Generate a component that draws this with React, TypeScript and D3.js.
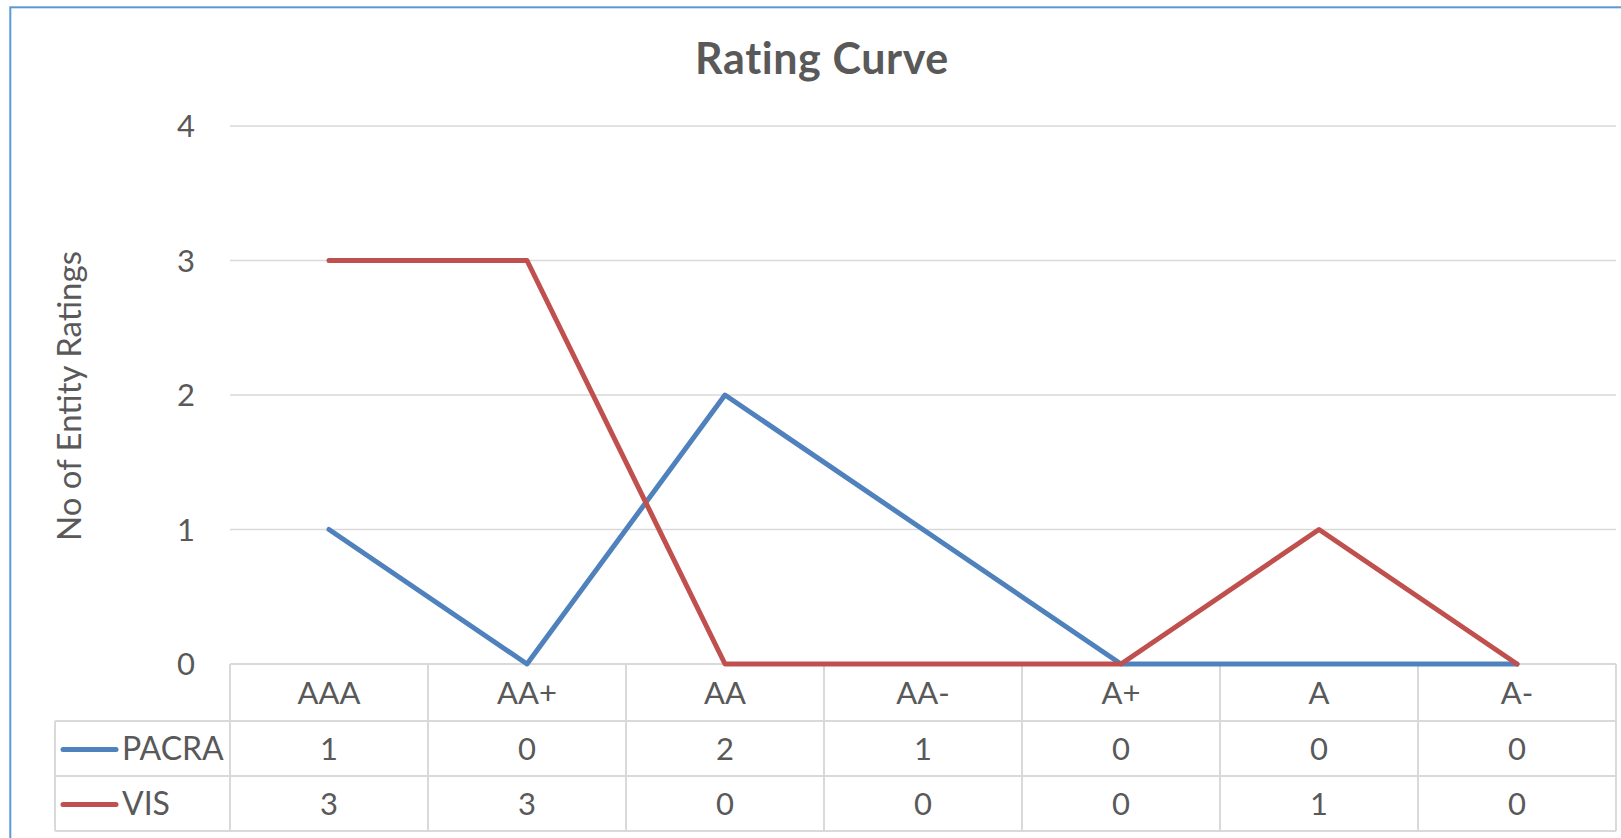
import React from "react";
import * as d3 from "d3";

const categories = ["AAA", "AA+", "AA", "AA-", "A+", "A", "A-"];
const pacra = [1, 0, 2, 1, 0, 0, 0];
const vis = [3, 3, 0, 0, 0, 1, 0];
const yTicks = [0, 1, 2, 3, 4];
const seriesNames = ["PACRA", "VIS"];
const seriesColors = ["#4F81BD", "#C0504D"];

const W = 1621;
const H = 838;
const FONT = "Lato, 'Open Sans', sans-serif";
const TEXT = "#595959";
const GRID = "#D9D9D9";

export default function App() {
  const plotL = 230;
  const plotR = 1616;
  const y0 = 664;
  const yTop = 126;
  const tableL = 55;
  const rowH = [664, 721, 776, 831];

  const x = d3.scaleBand<string>().domain(categories).range([plotL, plotR]);
  const y = d3.scaleLinear().domain([0, 4]).range([y0, yTop]);
  const cx = (c: string) => (x(c) as number) + x.bandwidth() / 2;

  const line = d3
    .line<number>()
    .x((_, i) => cx(categories[i]))
    .y((d) => y(d));

  const series = [pacra, vis];

  return (
    <svg
      width={W}
      height={H}
      style={{ position: "absolute", left: 0, top: 0, background: "#fff" }}
      fontFamily={FONT}
    >
      <rect x={0} y={0} width={W} height={H} fill="#fff" />
      {/* outer frame */}
      <rect x={10.3} y={7.3} width={W + 20} height={H + 20} fill="none" stroke="#5B9BD5" strokeWidth={2} />

      {/* title */}
      <text x={822} y={74} textAnchor="middle" fontSize={43} fontWeight={700} fill={TEXT} letterSpacing={0.6}>
        Rating Curve
      </text>

      {/* gridlines */}
      {yTicks
        .filter((t) => t > 0)
        .map((t) => (
          <line key={t} x1={plotL} x2={plotR} y1={y(t)} y2={y(t)} stroke={GRID} strokeWidth={1.5} />
        ))}

      {/* y tick labels */}
      {yTicks.map((t) => (
        <text key={t} x={195} y={y(t)} dy="0.36em" textAnchor="end" fontSize={31} fill={TEXT}>
          {t}
        </text>
      ))}

      {/* y axis title */}
      <text
        transform={`translate(81, ${(y0 + yTop) / 2 + 1}) rotate(-90)`}
        textAnchor="middle"
        fontSize={33}
        fill={TEXT}
      >
        No of Entity Ratings
      </text>

      {/* data table */}
      <g stroke={GRID} strokeWidth={2} fill="none">
        <line x1={plotL} x2={plotR} y1={rowH[0]} y2={rowH[0]} />
        {rowH.slice(1).map((r) => (
          <line key={r} x1={tableL} x2={plotR} y1={r} y2={r} />
        ))}
        <line x1={tableL} x2={tableL} y1={rowH[1]} y2={rowH[3]} />
        {categories.map((c) => (
          <line key={c} x1={x(c) as number} x2={x(c) as number} y1={rowH[0]} y2={rowH[3]} />
        ))}
        <line x1={plotR} x2={plotR} y1={rowH[0]} y2={rowH[3]} />
      </g>

      {categories.map((c) => (
        <text key={c} x={cx(c)} y={(rowH[0] + rowH[1]) / 2} dy="0.36em" textAnchor="middle" fontSize={31} fill={TEXT}>
          {c}
        </text>
      ))}

      {series.map((s, si) => (
        <g key={si}>
          <line
            x1={63}
            x2={116}
            y1={(rowH[si + 1] + rowH[si + 2]) / 2 + 1}
            y2={(rowH[si + 1] + rowH[si + 2]) / 2 + 1}
            stroke={seriesColors[si]}
            strokeWidth={5}
            strokeLinecap="round"
          />
          <text x={122} y={(rowH[si + 1] + rowH[si + 2]) / 2} dy="0.36em" fontSize={32} fill={TEXT}>
            {seriesNames[si]}
          </text>
          {s.map((v, i) => (
            <text
              key={i}
              x={cx(categories[i])}
              y={(rowH[si + 1] + rowH[si + 2]) / 2}
              dy="0.36em"
              textAnchor="middle"
              fontSize={31}
              fill={TEXT}
            >
              {v}
            </text>
          ))}
        </g>
      ))}

      {/* lines */}
      {series.map((s, si) => (
        <path
          key={si}
          d={line(s) || ""}
          fill="none"
          stroke={seriesColors[si]}
          strokeWidth={5}
          strokeLinejoin="round"
          strokeLinecap="round"
        />
      ))}
    </svg>
  );
}
